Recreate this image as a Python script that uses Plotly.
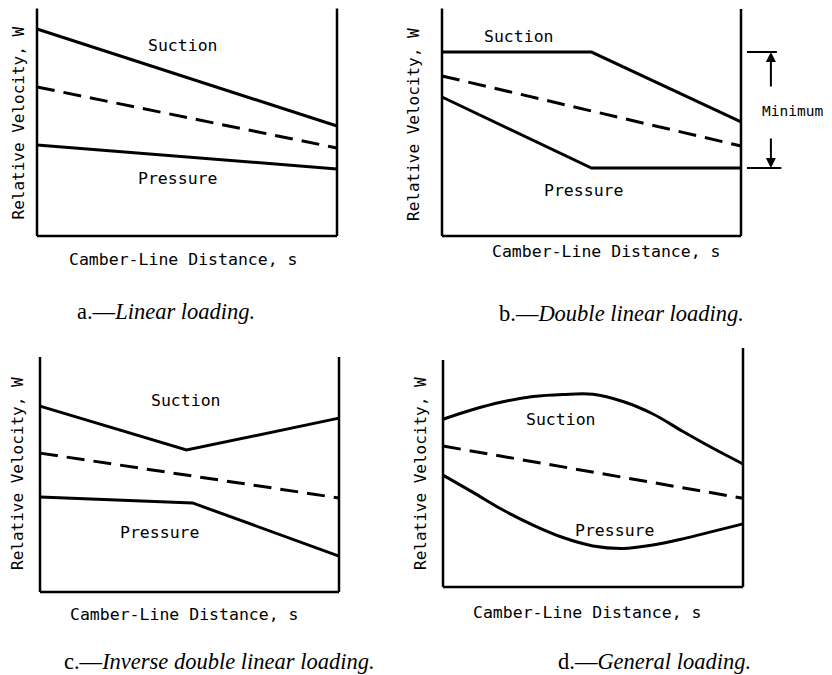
import plotly.graph_objects as go

# page body has an 8px default margin: figure is sized to the visible area and
# all positions below are given in window pixels, shifted by OFF.
OFF = 8
W, H = 832 - OFF, 675 - OFF

# ---------------- data (relative units, W from 0 to 10 along frame height) ----------------
a_x = [0, 1]
a_suction = [8.96, 4.76]
a_mean = [6.45, 3.81]
a_pressure = [3.94, 2.90]

b_x = [0, 0.5, 1]
b_suction = [8.03, 8.03, 4.98]
b_mean_x = [0, 1]
b_mean = [6.99, 3.93]
b_pressure = [6.07, 2.97, 2.97]

c_suction_x = [0, 0.49, 1]
c_suction = [7.91, 6.04, 7.40]
c_mean_x = [0, 1]
c_mean = [5.91, 4.00]
c_pressure_x = [0, 0.51, 1]
c_pressure = [4.04, 3.79, 1.53]

d_x = [0, 0.1, 0.2, 0.3, 0.4, 0.5, 0.6, 0.7, 0.8, 0.9, 1.0]
d_suction = [7.39, 7.82, 8.16, 8.39, 8.48, 8.49, 8.17, 7.62, 6.85, 6.11, 5.42]
d_mean_x = [0, 1]
d_mean = [6.21, 3.91]
d_pressure = [4.93, 4.17, 3.39, 2.73, 2.18, 1.81, 1.70, 1.85, 2.12, 2.45, 2.78]

y_title = "Relative Velocity, W"
x_title = "Camber-Line Distance, s"
captions = ["a.—<i>Linear loading.</i>", "b.—<i>Double linear loading.</i>",
            "c.—<i>Inverse double linear loading.</i>", "d.—<i>General loading.</i>"]


def fx(px):
    return (px - OFF) / W


def fy(py):
    return 1 - (py - OFF) / H


# ---------------- layout geometry (window pixels) ----------------
panels = [
    dict(px0=37, px1=337, py0=236, py10=5, rtop=9.91, xmax=1.03),
    dict(px0=442, px1=741, py0=236, py10=7, rtop=9.91, xmax=(829 - 442) / 299),
    dict(px0=40, px1=339, py0=592, py10=357, rtop=10.0, xmax=1.03),
    dict(px0=443, px1=743, py0=587, py10=360, rtop=10.53, xmax=1.03),
]

fig = go.Figure()
layout = dict(width=W, height=H, margin=dict(l=0, r=0, t=0, b=0),
              paper_bgcolor="white", plot_bgcolor="white", showlegend=False)
shapes = []
annotations = []

LBL = dict(family="DejaVu Sans Mono", size=16.5, color="black")
YLBL = dict(family="DejaVu Sans Mono", size=16, color="black")
CAP = dict(family="Liberation Serif", size=22.5, color="black")

for i, p in enumerate(panels):
    n = "" if i == 0 else str(i + 1)
    sx = (p["px1"] - p["px0"])
    sy = (p["py0"] - p["py10"]) / 10.0
    xr = [-0.03, p["xmax"]]
    ytop = min(10.3 if p["rtop"] < 10.1 else p["rtop"] + 0.25, (p["py0"] - OFF) / sy - 0.02)
    yr = [-0.3, ytop]
    dx = [fx(p["px0"] + xr[0] * sx), fx(p["px0"] + xr[1] * sx)]
    dy = [fy(p["py0"] - yr[0] * sy), fy(p["py0"] - yr[1] * sy)]
    dx = [max(0, dx[0]), min(1, dx[1])]
    dy = [max(0, dy[0]), min(1, dy[1])]
    ax_common = dict(showgrid=False, zeroline=False, showticklabels=False, ticks="",
                     showline=False, fixedrange=True)
    layout["xaxis" + n] = dict(domain=dx, range=xr, anchor="y" + n, **ax_common)
    layout["yaxis" + n] = dict(domain=dy, range=yr, anchor="x" + n, **ax_common)
    xref, yref = "x" + n, "y" + n
    fl = dict(color="black", width=2.5)
    shapes.append(dict(type="line", xref=xref, yref=yref, x0=0, y0=0, x1=0, y1=10, line=fl))
    shapes.append(dict(type="line", xref=xref, yref=yref, x0=0, y0=0, x1=1, y1=0, line=fl))
    shapes.append(dict(type="line", xref=xref, yref=yref, x0=1, y0=0, x1=1, y1=p["rtop"], line=fl))

solid = dict(color="black", width=3)
dashed = dict(color="black", width=3, dash="18px,9px")


def add(x, y, ax, line, shape="linear"):
    fig.add_trace(go.Scatter(x=x, y=y, mode="lines", line=dict(**line, shape=shape),
                             xaxis="x" + ax, yaxis="y" + ax, hoverinfo="skip"))


add(a_x, a_suction, "", solid)
add(a_x, a_mean, "", dashed)
add(a_x, a_pressure, "", solid)

add(b_x, b_suction, "2", solid)
add(b_mean_x, b_mean, "2", dashed)
add(b_x, b_pressure, "2", solid)

add(c_suction_x, c_suction, "3", solid)
add(c_mean_x, c_mean, "3", dashed)
add(c_pressure_x, c_pressure, "3", solid)

add(d_x, d_suction, "4", solid, "spline")
add(d_mean_x, d_mean, "4", dashed)
add(d_x, d_pressure, "4", solid, "spline")

# Suction / Pressure labels (data coords)
labels = [
    ("", 0.487, 8.23, 0.468, 2.47),
    ("2", 0.256, 8.73, 0.472, 1.98),
    ("3", 0.488, 8.13, 0.401, 2.52),
    ("4", 0.392, 7.39, 0.572, 2.48),
]
for n, sx_, sy_, px_, py_ in labels:
    annotations.append(dict(text="Suction", x=sx_, y=sy_, xref="x" + n, yref="y" + n,
                            showarrow=False, font=LBL))
    annotations.append(dict(text="Pressure", x=px_, y=py_, xref="x" + n, yref="y" + n,
                            showarrow=False, font=LBL))

# "Minimum" bracket in panel b
top_v = b_suction[0]
bot_v = b_pressure[-1]
bl = dict(color="black", width=2)
shapes.append(dict(type="line", xref="x2", yref="y2", x0=1.02, x1=1.12, y0=top_v, y1=top_v, line=bl))
shapes.append(dict(type="line", xref="x2", yref="y2", x0=1.02, x1=1.135, y0=bot_v, y1=bot_v, line=bl))
annotations.append(dict(x=1.10, y=top_v, ax=1.10, ay=6.46, xref="x2", yref="y2", axref="x2", ayref="y2",
                        text="", showarrow=True, arrowhead=2, arrowsize=1, arrowwidth=2, arrowcolor="black"))
annotations.append(dict(x=1.10, y=bot_v, ax=1.10, ay=4.32, xref="x2", yref="y2", axref="x2", ayref="y2",
                        text="", showarrow=True, arrowhead=2, arrowsize=1, arrowwidth=2, arrowcolor="black"))
annotations.append(dict(text="Minimum", x=1.171, y=5.46, xref="x2", yref="y2", showarrow=False,
                        font=dict(family="DejaVu Sans Mono", size=14.5, color="black")))

# axis titles and captions (window positions in px)
ylab_pos = [(17.5, 123), (414, 125), (18, 474), (421, 474)]
xlab_pos = [(182.5, 259), (606, 251), (184, 614), (587, 612)]
cap_pos = [(165.5, 312), (621.7, 313), (219, 661), (654.5, 661.5)]
for (yx, yy), (xx, xy), (cx, cy), cap in zip(ylab_pos, xlab_pos, cap_pos, captions):
    annotations.append(dict(text=y_title, x=fx(yx), y=fy(yy), xref="paper", yref="paper",
                            textangle=-90, showarrow=False, font=YLBL, xanchor="center", yanchor="middle"))
    annotations.append(dict(text=x_title, x=fx(xx), y=fy(xy), xref="paper", yref="paper",
                            showarrow=False, font=LBL, xanchor="center", yanchor="middle"))
    annotations.append(dict(text=cap, x=fx(cx), y=fy(cy), xref="paper", yref="paper",
                            showarrow=False, font=CAP, xanchor="center", yanchor="middle"))

layout["shapes"] = shapes
layout["annotations"] = annotations
fig.update_layout(**layout)
fig.write_html("out.html")
